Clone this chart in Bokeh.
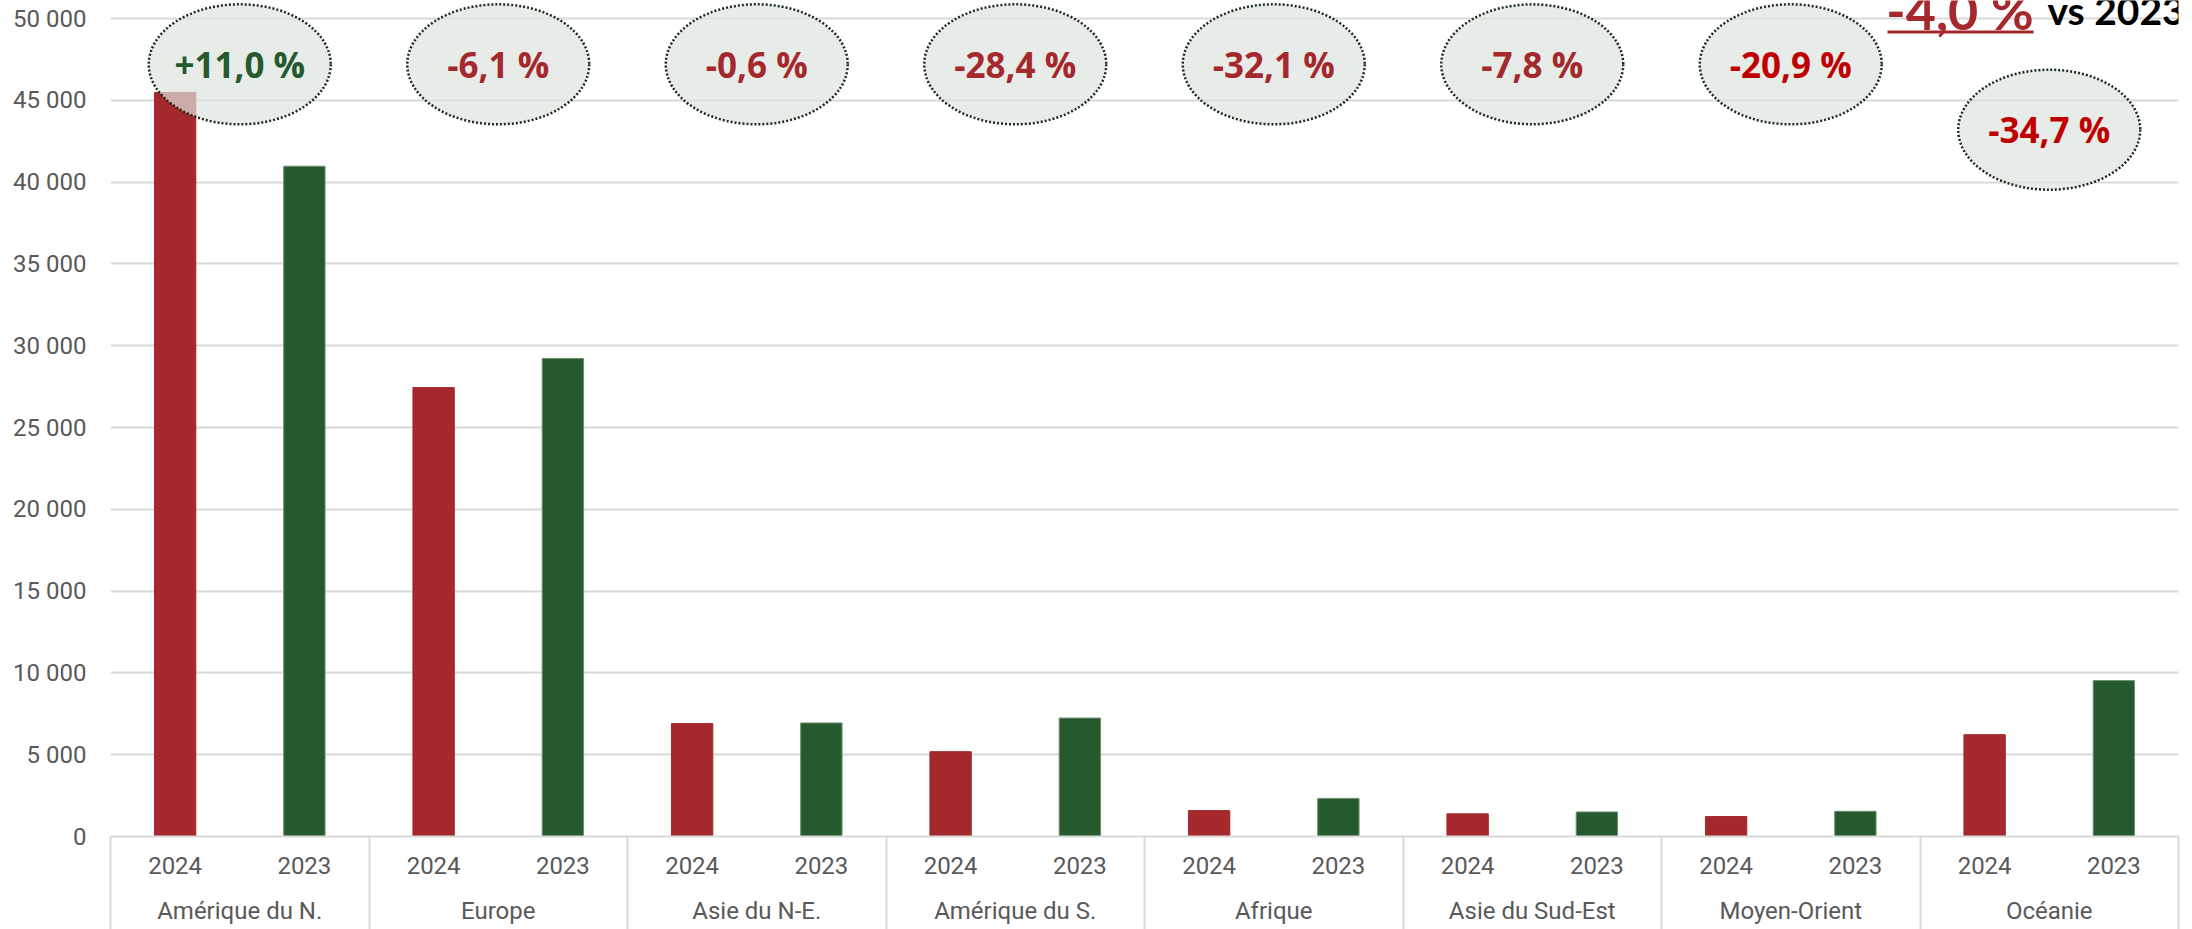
from bokeh.plotting import figure
from bokeh.models import (FactorRange, Range1d, FixedTicker, CustomJSTickFormatter,
                          CategoricalAxis, LinearAxis, Label,
                          BoxAnnotation, ColumnDataSource)
from bokeh.transform import factor_cmap
from bokeh.core.properties import value
from bokeh.embed import file_html
from bokeh.resources import INLINE

# ---------------- data ----------------
regions = ["Amérique du N.", "Europe", "Asie du N-E.", "Amérique du S.",
           "Afrique", "Asie du Sud-Est", "Moyen-Orient", "Océanie"]
years = ["2024", "2023"]
values_2024 = [45480, 27440, 6900, 5185, 1582, 1383, 1218, 6223]
values_2023 = [40970, 29220, 6940, 7240, 2330, 1500, 1540, 9530]
change_labels = ["+11,0 %", "-6,1 %", "-0,6 %", "-28,4 %",
                 "-32,1 %", "-7,8 %", "-20,9 %", "-34,7 %"]
y_ticks = [0, 5000, 10000, 15000, 20000, 25000, 30000, 35000, 40000, 45000, 50000]
total_change = "-4,0 %"
total_ref = "vs 2023"

# ---------------- styles ----------------
RED = "#a4282c"
GREEN = "#245a2e"
change_colors = [GREEN, RED, RED, RED, RED, RED, "#c00000", "#c00000"]
bubble_y = [47200, 47200, 47200, 47200, 47200, 47200, 47200, 43200]
GRID = "#d9d9d9"
TXT = "#595959"
FONT = "Roboto"

W, H = 2192, 929
BOTTOM = 93
frame_h = H - BOTTOM
y_end = 50000 * frame_h / (frame_h - 18)
px = y_end / frame_h  # data units per pixel

factors = [(r, y) for r in regions for y in years]
tops = []
for a, b in zip(values_2024, values_2023):
    tops += [a, b]
src = ColumnDataSource(dict(x=factors, top=tops))

xr = FactorRange(*factors, group_padding=0, subgroup_padding=0,
                 factor_padding=0, range_padding=0)
p = figure(x_range=xr, y_range=Range1d(0, y_end), width=W, height=H,
           output_backend="svg", toolbar_location=None, x_axis_location=None,
           min_border_left=110, min_border_right=14, min_border_top=0,
           min_border_bottom=BOTTOM)
p.outline_line_color = None
p.background_fill_color = "white"
p.border_fill_color = "white"

# y axis / grid
p.yaxis.ticker = FixedTicker(ticks=y_ticks)
p.yaxis.formatter = CustomJSTickFormatter(
    code="return tick.toFixed(0).replace(/\\B(?=(\\d{3})+(?!\\d))/g, ' ');")
p.yaxis.axis_line_color = None
p.yaxis.major_tick_line_color = None
p.yaxis.minor_tick_line_color = None
p.yaxis.major_tick_out = 0
p.yaxis.major_label_text_font = FONT
p.yaxis.major_label_text_font_size = "24px"
p.yaxis.major_label_text_color = TXT
p.yaxis.major_label_standoff = 24
p.ygrid.ticker = FixedTicker(ticks=y_ticks)
p.ygrid.grid_line_color = GRID
p.ygrid.grid_line_width = 2
p.xgrid.visible = False

# separator lines of the category axis: group boundaries in the
# factor range's synthetic coordinates (zero-size axis, ticks drawn outward)
n_sub = len(years)
sep = LinearAxis(ticker=FixedTicker(ticks=[i * n_sub for i in range(len(regions) + 1)]),
                 major_tick_in=-BOTTOM, major_tick_out=0,
                 major_tick_line_color=GRID, major_tick_line_width=2,
                 minor_tick_line_color=None, axis_line_color=GRID,
                 axis_line_width=2, major_label_text_color=None,
                 major_label_standoff=0)
p.add_layout(sep, "below")

# category axis (years + regions)
ax = CategoricalAxis()
ax.major_label_text_font = FONT
ax.major_label_text_font_size = "24px"
ax.major_label_text_color = TXT
ax.group_text_font = FONT
ax.group_text_font_size = "24px"
ax.group_text_font_style = "normal"
ax.group_text_color = TXT
ax.major_tick_line_color = None
ax.major_tick_out = 0
ax.major_tick_in = 0
ax.major_label_standoff = 20
ax.axis_line_color = None
ax.separator_line_color = None
p.add_layout(ax, "below")

# bars
p.vbar(x="x", top="top", width=0.32, source=src,
       fill_color=factor_cmap("x", [RED, GREEN], years, start=1, end=2),
       line_color=factor_cmap("x", [RED, "#6f8f72"], years, start=1, end=2),
       line_width=1)

# bubbles
bsrc = ColumnDataSource(dict(x=regions, y=bubble_y, label=change_labels,
                             color=change_colors))
p.ellipse(x="x", y="y", width=182, height=120, width_units="screen",
          height_units="screen", source=bsrc, fill_color="#dde4de",
          fill_alpha=0.7, line_color="#1e2a20", line_width=2.5,
          line_dash="2 2")
p.text(x="x", y="y", text="label", source=bsrc, text_color="color",
       text_font=value("Open Sans"), text_font_style="bold", text_font_size="35px",
       text_align="center", text_baseline="middle")

# headline
base_y = y_end - 9 * px
p.add_layout(Label(x=1923, y=base_y, x_units="screen", y_units="data",
                   text=total_change, text_color=RED, text_font="Lato",
                   text_font_style="bold", text_font_size="52px",
                   text_align="right", text_baseline="alphabetic"))
p.add_layout(Label(x=1937, y=base_y, x_units="screen", y_units="data",
                   text=total_ref, text_color="black", text_font="Lato",
                   text_font_style="bold", text_font_size="39px",
                   text_align="left", text_baseline="alphabetic"))
p.add_layout(BoxAnnotation(left=1887, right=2033, top=30, bottom=33,
                           left_units="canvas", right_units="canvas",
                           top_units="canvas", bottom_units="canvas",
                           fill_color=RED, fill_alpha=1, line_color=None))

open("out.html", "w").write(file_html(p, INLINE))
